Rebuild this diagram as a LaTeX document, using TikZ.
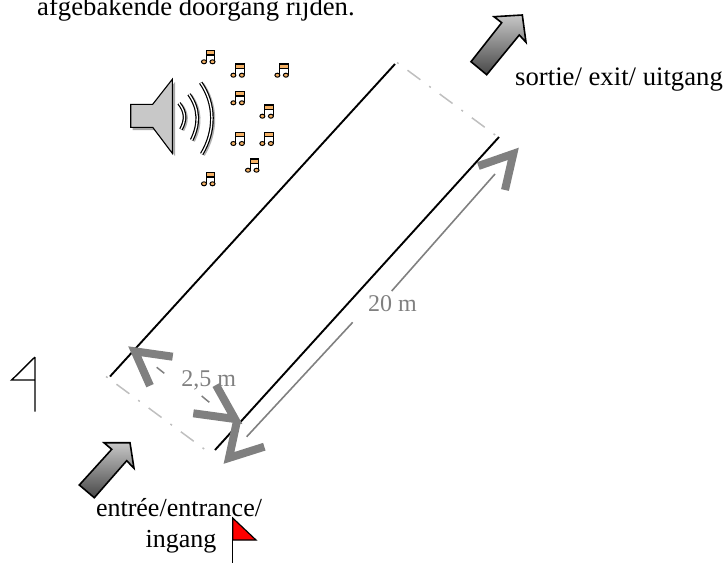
\documentclass[tikz,border=0pt]{standalone}
\usepackage{fontspec}
\setmainfont{Liberation Serif}
\usetikzlibrary{calc}
\definecolor{notefill}{HTML}{F5B266}
\definecolor{conefill}{HTML}{C8C8C8}
\tikzset{
  laneline/.style={black,line width=1.9},
  limitline/.style={color=black!25,line width=1.5,dash pattern=on 2 off 11 on 16 off 11},
  dimline/.style={color=black!50,line width=1.6},
  dimhead/.style={color=black!50,line width=8,miter limit=10},
  dimtext/.style={text=black!50,font=\fontsize{24}{27}\selectfont,inner sep=0},
  maintext/.style={font=\fontsize{26.7}{31}\selectfont,inner sep=0,align=center},
  entrytext/.style={font=\fontsize{26}{31}\selectfont,inner sep=0,align=center},
  blockarrow/.style={draw=black,line width=1.6,miter limit=10,top color=black!22,bottom color=black!72},
  wave/.style={line width=1.2,double=white,double distance=1.3},
}
\newcommand{\musicnote}[1]{%
  \begin{scope}[shift={#1}]
    \fill[notefill] (-2,-6.7) rectangle (6.5,-2.3);
    \draw[line width=1.2] (-2,4.5) -- (-2,-6.7) -- (6.5,-6.7) -- (6.5,4.5) (-2,-2.3) -- (6.5,-2.3);
    \draw[fill=notefill,line width=1] (-4.3,4.5) ellipse (2.5 and 2) (4.2,4.5) ellipse (2.5 and 2);
  \end{scope}}
\begin{document}
\begin{tikzpicture}[x=1pt,y=-1pt]
  \useasboundingbox (0,0) rectangle (725,563);
  %LANE
  \coordinate (A) at (110,376.5);
  \coordinate (B) at (215,450);
  \coordinate (C) at (499,137);
  \coordinate (D) at (395,64);
  \coordinate (A') at (106,376.5);
  \coordinate (B') at (211,454);
  \coordinate (C') at (502,140);
  \coordinate (D') at (397,62.5);
  \draw[laneline] (A) -- (D) (B) -- (C);
  \draw[limitline] (A') -- (B') (D') -- (C');
  %DIMENSIONS
  \coordinate (L1) at (229,457.9);
  \coordinate (L2) at (513.3,153.8);
  \coordinate (W1) at (134.8,351.3);
  \coordinate (W2) at (235,419);
  \draw[dimline] (246.7,436.7) -- (352.7,322.3) (391.7,291) -- (495,174);
  \draw[dimhead] (264.3,446.7) -- (L1) -- (236.7,422.3);
  \draw[dimhead] (478.3,166) -- (L2) -- (505,190);
  \draw[color=black!50,line width=1.5] (156.7,367.3) -- (164.3,373.3) (201.7,396) -- (209.3,402.3);
  \draw[dimhead] (172.7,356.7) -- (W1) -- (150,385.7);
  \draw[dimhead] (193.3,413.3) -- (W2) -- (216,385);
  \node[dimtext,anchor=base] (lenlabel) at (392.5,311.7) {20 m};
  \node[dimtext,anchor=base] (widlabel) at (208.7,386.7) {2,5 m};
  %BLOCK ARROWS
  \draw[blockarrow] (79.3,485) -- (94.3,497.7) -- (126.7,460.7) -- (134,468.3) -- (130,442.7) -- (104,442.7) -- (111.7,449.3) -- cycle;
  \draw[blockarrow] (471,61.7) -- (486.7,74.7) -- (519.3,35) -- (526,42.3) -- (522.3,15) -- (494,16.7) -- (501.7,22.7) -- cycle;
  %FLAGS
  \draw[line width=1.4] (35,357) -- (35,411.7) (35,357) -- (11.7,380) -- (35,380);
  \draw[fill=red,line width=1.2] (232.7,518) -- (256,540) -- (232.7,540) -- cycle;
  \draw[line width=1.4] (232.7,518) -- (232.7,562.7);
  %SPEAKER
  \fill[black!35] (132.7,106.3) rectangle (155,130) (155,106.3) -- (175,82) -- (175,156) -- (155,130) -- cycle;
  \draw[fill=conefill,line width=1.1] (130.7,104.3) -- (152.7,104.3) -- (172.3,79.3) -- (172.3,153.3) -- (152.7,127.3) -- (130.7,127.3) -- cycle;
  \draw[black!30,line width=3.6] (180.5,104.3) .. controls (187.5,113) and (187.5,121) .. (182.5,130.3)
    (190.5,95.3) .. controls (201,110) and (201,125) .. (193.2,141)
    (202.2,83.7) .. controls (217,105) and (217,132) .. (203.2,155);
  \draw[wave] (179,103.3) .. controls (186,112) and (186,120) .. (181,129.3);
  \draw[wave] (189,94.3) .. controls (199.5,109) and (199.5,124) .. (191.7,140);
  \draw[wave] (200.7,82.7) .. controls (215.5,104) and (215.5,131) .. (201.7,154);
  %NOTES
  \foreach \px/\py in {208.3/57.3,237.7/70.7,281.7/70.7,237.7/98.3,266.7/111.7,237.7/139,266.7/139,252.3/165.7,208.3/179.3}
    \musicnote{(\px,\py)};
  %TEXTS
  \node[maintext,anchor=base west] (title) at (37,15) {afgebakende doorgang rijden.};
  \node[maintext,anchor=base west] (exitlabel) at (515,85) {sortie/ exit/ uitgang};
  \node[entrytext,anchor=base] (entrylabel) at (179,516) {entrée/entrance/};
  \node[entrytext,anchor=base] (entrylabelb) at (181,547) {ingang};
\end{tikzpicture}
\end{document}
